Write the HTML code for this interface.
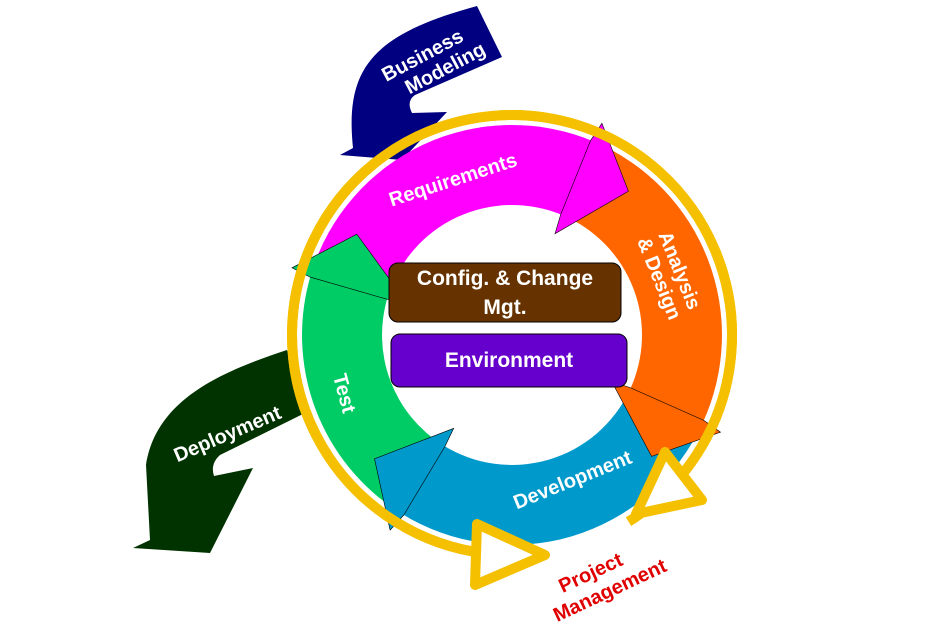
<!DOCTYPE html>
<html><head><meta charset="utf-8"><style>
html,body{margin:0;padding:0;background:#fff;}
svg{display:block;}
text{font-family:"Liberation Sans",Arial,sans-serif;font-weight:bold;}
</style></head><body>
<svg id="d" width="938" height="624" viewBox="0 0 938 624">
<path fill="#000080" d="M477,6 L502,57 L415,95 Q406,101 412,113 L447,112 L402,160 L340,155 L353,148 C345,70 370,35 477,6 Z"/>
<text fill="#fff" font-size="20" transform="translate(434,60) rotate(-28)" text-anchor="middle"><tspan x="-8" y="-3">Business</tspan><tspan x="6" y="19">Modeling</tspan></text>
<path fill="#003300" d="M287,350 L307,412 L220,455 Q210,464 214,476 L253,468 L210,553 L133,548 L150,540 L146,465 C156,400 220,372 287,350 Z"/>
<text fill="#fff" font-size="20" transform="translate(230,440) rotate(-23)" text-anchor="middle">Deployment</text>
<g id="ring"></g>
<rect x="389" y="263" width="232" height="59" rx="9" fill="#663300" stroke="#000" stroke-width="1"/>
<text fill="#fff" font-size="21" text-anchor="middle"><tspan x="505" y="285">Config. &amp; Change</tspan><tspan x="505" y="314">Mgt.</tspan></text>
<rect x="391" y="334" width="236" height="53" rx="9" fill="#6600cc" stroke="#000" stroke-width="1"/>
<text fill="#fff" font-size="21" text-anchor="middle" x="509" y="367">Environment</text>
<text fill="#fff" font-size="20" transform="translate(455,186) rotate(-18)" text-anchor="middle">Requirements</text>
<text fill="#fff" font-size="20" transform="translate(668,275) rotate(68)" text-anchor="middle"><tspan x="0" y="-6">Analysis</tspan><tspan x="0" y="16">&amp; Design</tspan></text>
<text fill="#fff" font-size="20" transform="translate(338,395) rotate(75)" text-anchor="middle">Test</text>
<text fill="#fff" font-size="20" transform="translate(575,486) rotate(-22)" text-anchor="middle">Development</text>
<text fill="#e00000" font-size="20" transform="translate(605,580) rotate(-25)" text-anchor="middle"><tspan x="-10" y="-6">Project</tspan><tspan x="0" y="18">Management</tspan></text>
</svg>
<script>
var cx=512, cy=335, ri=130, ro=210;
var names=['requirements','analysis-design','development','test'];
var colors=['#ff00ff','#ff6600','#0099cc','#00cc66'];
var starts=[197,293,25,122];
var ends=[293,385,122,197];
var ring=document.getElementById('ring');
var NS='http://www.w3.org/2000/svg';
function pt(a,r){var t=a*Math.PI/180;return (cx+r*Math.cos(t)).toFixed(1)+','+(cy+r*Math.sin(t)).toFixed(1);}
var yr=document.createElementNS(NS,'path');


yr.setAttribute('d','M'+pt(100,220)+' A220,220 0 1,1 '+pt(58,220));
yr.setAttribute('fill','none');yr.setAttribute('stroke','#f5c000');yr.setAttribute('stroke-width','10');
ring.appendChild(yr);
for(var i=0;i<4;i++){
  var a0=starts[i], a1=ends[i]; if(a1<a0)a1+=360;
  var p=document.createElementNS(NS,'path');
  var d='M'+pt(a0,ro)+' A'+ro+','+ro+' 0 0,1 '+pt(a1,ro)+' L'+pt(a1,ri)+' A'+ri+','+ri+' 0 0,0 '+pt(a0,ri)+' Z';
  p.setAttribute('d',d);p.setAttribute('fill',colors[i]);
  
  
  ring.appendChild(p);
}
for(var k=0;k<4;k++){
  var b0=starts[k], b1=ends[k]; if(b1<b0)b1+=360;
  var h=document.createElementNS(NS,'path');
  var hd='M'+pt(b1-1,ro)+' L'+pt(b1,ro+20)+' L'+pt(b1+16,(ri+ro)/2+15)+' L'+pt(b1,ri-20)+' L'+pt(b1-1,ri)+' Z';
  h.setAttribute('d',hd);h.setAttribute('fill',colors[k]);h.setAttribute('stroke','#000');h.setAttribute('stroke-width','0.6');
  
  
  ring.appendChild(h);
}
var yr2=yr.cloneNode();


ring.appendChild(yr2);
var tris=['477,524 475,585 545,555','665,452 702,500 636,514'];
for(var j=0;j<2;j++){
  var t=document.createElementNS(NS,'polygon');
  t.setAttribute('points',tris[j]);t.setAttribute('fill','#fff');t.setAttribute('stroke','#f5c000');t.setAttribute('stroke-width','10');t.setAttribute('stroke-linejoin','round');
  
  
  ring.appendChild(t);
}
</script>
</body></html>
